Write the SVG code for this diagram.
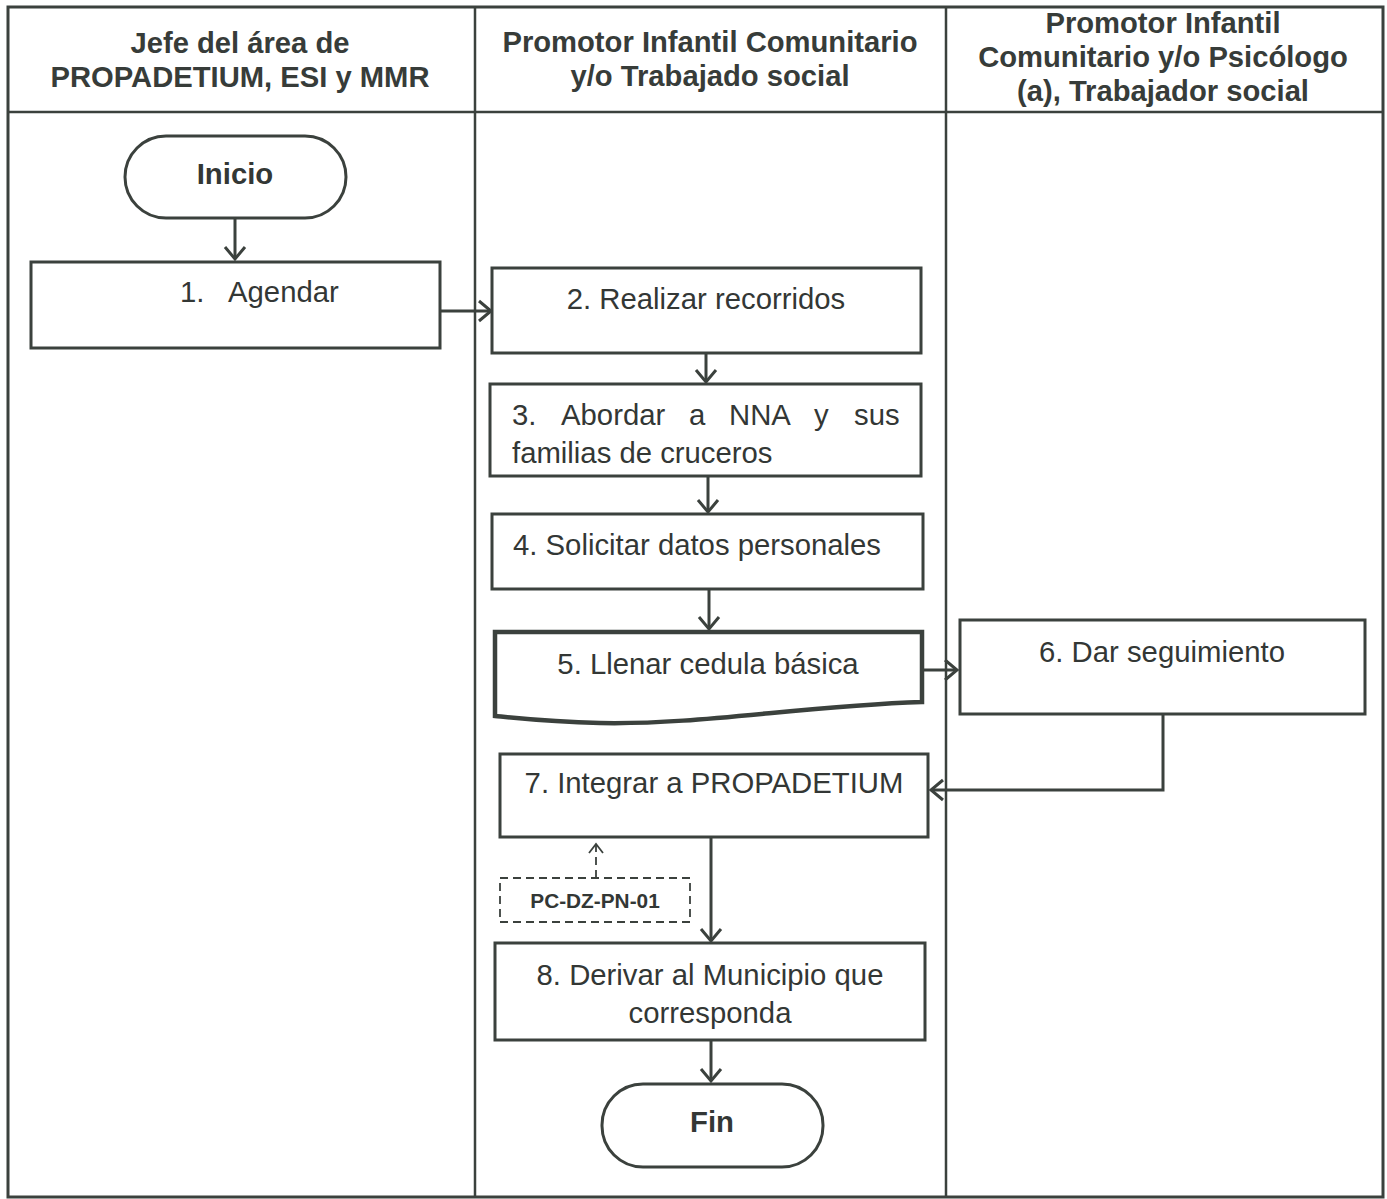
<svg xmlns="http://www.w3.org/2000/svg" width="1387" height="1199" viewBox="0 0 1387 1199">
<defs>
<style>
.lane{fill:none;stroke:#3b413d;stroke-width:2.5}
.box{fill:#fff;stroke:#3b413d;stroke-width:3}
.doc{fill:#fff;stroke:#3b413d;stroke-width:4.5}
.term{fill:#fff;stroke:#3b413d;stroke-width:3}
.hdr{font-family:"Liberation Sans",Arial,sans-serif;font-weight:bold;font-size:29.2px;fill:#373c39;text-anchor:middle}
.txt{font-family:"Liberation Sans",Arial,sans-serif;font-size:29.3px;fill:#333735}
.mid{text-anchor:middle}
.bold{font-weight:bold}
.con{fill:none;stroke:#3b413d;stroke-width:3}
.dash{fill:none;stroke:#3b413d;stroke-width:1.8;stroke-dasharray:8 5}
</style>
<marker id="arr" markerUnits="userSpaceOnUse" markerWidth="26" markerHeight="24" refX="13" refY="11" orient="auto" viewBox="0 0 26 22">
<path d="M1,1 L13,11 L1,21" fill="none" stroke="#3b413d" stroke-width="3"/>
</marker>
<marker id="arrs" markerUnits="userSpaceOnUse" markerWidth="20" markerHeight="20" refX="10" refY="8" orient="auto" viewBox="0 0 20 16">
<path d="M1,1 L10,8 L1,15" fill="none" stroke="#3b413d" stroke-width="1.8"/>
</marker>
</defs>
<rect width="1387" height="1199" fill="#fff"/>
<g id="lanes">
<rect class="lane" x="8" y="7" width="1375" height="1190" style="stroke-width:3"/>
<line class="lane" x1="8" y1="112" x2="1383" y2="112"/>
<line class="lane" x1="475" y1="7" x2="475" y2="1197"/>
<line class="lane" x1="946" y1="7" x2="946" y2="1197"/>
<text class="hdr" x="240" y="53">Jefe del área de</text>
<text class="hdr" x="240" y="87">PROPADETIUM, ESI y MMR</text>
<text class="hdr" x="710" y="52">Promotor Infantil Comunitario</text>
<text class="hdr" x="710" y="86">y/o Trabajado social</text>
<text class="hdr" x="1163" y="33">Promotor Infantil</text>
<text class="hdr" x="1163" y="67">Comunitario y/o Psicólogo</text>
<text class="hdr" x="1163" y="101">(a), Trabajador social</text>
</g>
<g id="connectors">
<line class="con" x1="235" y1="218" x2="235" y2="259" marker-end="url(#arr)"/>
<line class="con" x1="440" y1="311" x2="491" y2="311" marker-end="url(#arr)"/>
<line class="con" x1="706" y1="353" x2="706" y2="382" marker-end="url(#arr)"/>
<line class="con" x1="708" y1="476" x2="708" y2="512" marker-end="url(#arr)"/>
<line class="con" x1="709" y1="589" x2="709" y2="629" marker-end="url(#arr)"/>
<line class="con" x1="922" y1="670" x2="957" y2="670" marker-end="url(#arr)"/>
<polyline class="con" points="1163,714 1163,790 931,790" marker-end="url(#arr)"/>
<line class="con" x1="711" y1="837" x2="711" y2="941" marker-end="url(#arr)"/>
<line class="con" x1="711" y1="1040" x2="711" y2="1081" marker-end="url(#arr)"/>
<line class="dash" x1="596" y1="878" x2="596" y2="844" marker-end="url(#arrs)"/>
</g>
<g id="inicio">
<rect class="term" x="125" y="136" width="221" height="82" rx="41" ry="41"/>
<text class="txt mid bold" x="235" y="184">Inicio</text>
</g>
<g id="n1">
<rect class="box" x="31" y="262" width="409" height="86"/>
<text class="txt" y="302"><tspan x="180">1.</tspan><tspan x="228">Agendar</tspan></text>
</g>
<g id="n2">
<rect class="box" x="492" y="268" width="429" height="85"/>
<text class="txt mid" x="706" y="309">2. Realizar recorridos</text>
</g>
<g id="n3">
<rect class="box" x="490" y="384" width="431" height="92"/>
<text class="txt" y="425"><tspan x="512">3.</tspan><tspan x="561">Abordar</tspan><tspan x="689">a</tspan><tspan x="729">NNA</tspan><tspan x="814">y</tspan><tspan x="854">sus</tspan></text>
<text class="txt" x="512" y="463">familias de cruceros</text>
</g>
<g id="n4">
<rect class="box" x="492" y="514" width="431" height="75"/>
<text class="txt mid" x="697" y="555">4. Solicitar datos personales</text>
</g>
<g id="n5">
<path class="doc" d="M495,632 H922 V702 C800,706 700,725 600,723 C550,722 515,718 495,716 Z"/>
<text class="txt mid" x="708" y="674">5. Llenar cedula básica</text>
</g>
<g id="n6">
<rect class="box" x="960" y="620" width="405" height="94"/>
<text class="txt mid" x="1162" y="662">6. Dar seguimiento</text>
</g>
<g id="n7">
<rect class="box" x="500" y="754" width="428" height="83"/>
<text class="txt mid" x="714" y="793">7. Integrar a PROPADETIUM</text>
</g>
<g id="ref">
<rect class="dash" x="500" y="878" width="190" height="44"/>
<text class="txt mid bold" x="595" y="908" style="font-size:20.8px">PC-DZ-PN-01</text>
</g>
<g id="n8">
<rect class="box" x="495" y="943" width="430" height="97"/>
<text class="txt mid" x="710" y="985">8. Derivar al Municipio que</text>
<text class="txt mid" x="710" y="1023">corresponda</text>
</g>
<g id="fin">
<rect class="term" x="602" y="1084" width="221" height="83" rx="41" ry="41"/>
<text class="txt mid bold" x="712" y="1132">Fin</text>
</g>
</svg>
